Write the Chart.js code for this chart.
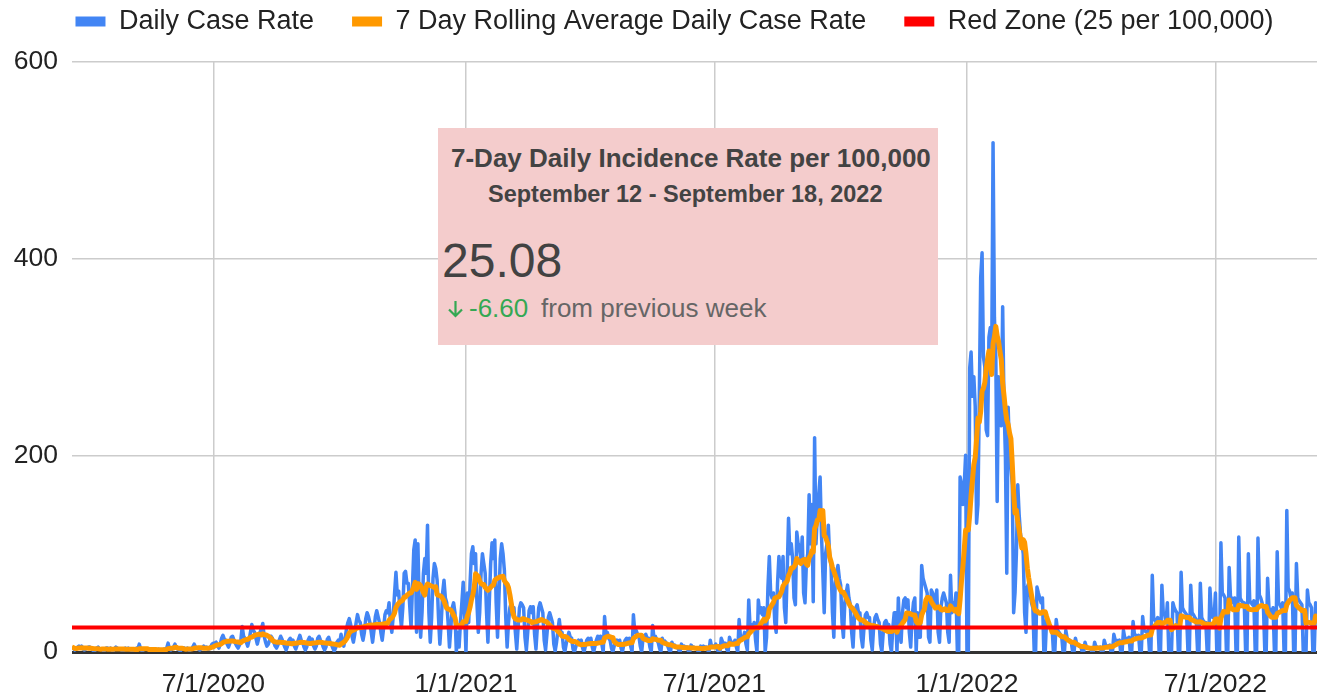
<!DOCTYPE html>
<html><head><meta charset="utf-8">
<script src="https://cdn.jsdelivr.net/npm/chart.js@4.4.1/dist/chart.umd.min.js"></script>
<style>
html,body{margin:0;padding:0;background:#fff;}
#wrap{position:relative;width:1317px;height:699px;overflow:hidden;background:#fff;}
#c{position:absolute;left:0;top:0;}
#box{position:absolute;left:438px;top:128px;width:500px;height:217px;background:#F4CCCC;font-family:"Liberation Sans",Arial,sans-serif;}
.t{position:absolute;white-space:nowrap;line-height:1;}
</style></head><body>
<div id="wrap">
<canvas id="c" width="1317" height="699"></canvas>
<div id="box">
  <div class="t" style="left:13px;top:17px;font-size:26px;font-weight:bold;color:#434343">7-Day Daily Incidence Rate per 100,000</div>
  <div class="t" style="left:50px;top:55px;font-size:23.5px;font-weight:bold;color:#434343">September 12 - September 18, 2022</div>
  <div class="t" style="left:4px;top:109px;font-size:48px;color:#424242">25.08</div>
  <svg style="position:absolute;left:9px;top:173px" width="17" height="17" viewBox="0 0 17 17"><path d="M8.5 0 V15 M2 8.5 L8.5 15 L15 8.5" fill="none" stroke="#34A853" stroke-width="2.2"/></svg>
  <div class="t" style="left:31px;top:167px;font-size:26px;color:#34A853">-6.60</div>
  <div class="t" style="left:103px;top:167px;font-size:26px;color:#666666">from previous week</div>
</div>
</div>
<script>
// Day 0 = 2020-03-20 (Friday); each row below is one week (Fri..Thu)
const startDate = '2020-03-20';
const dailyCaseRate = [
5,4,2,3,5,6,4,
6,3,2,3,4,5,5,
4,2,1,2,4,5,3,
3,3,1,2,4,4,3,
4,2,1,3,5,4,3,
3,2,2,2,4,3,4,
3,2,1,2,3,4,3,
8,3,1,2,3,3,3,
3,2,1,2,3,3,2,
3,2,1,2,3,3,4,
9,3,2,3,5,8,4,
3,2,1,3,4,4,3,
4,2,2,3,5,8,5,
4,3,2,3,4,6,4,
5,3,3,5,8,9,9,
10,6,4,8,14,17,13,
12,8,5,9,15,16,12,
9,6,4,7,12,26,16,
14,10,6,12,20,28,22,
20,14,8,14,20,24,29,
16,10,6,8,12,16,14,
10,6,4,7,12,16,13,
9,5,2,6,12,14,10,
12,6,3,7,13,17,12,
10,5,2,5,12,15,11,
13,6,3,6,14,16,12,
10,5,2,5,13,15,10,
8,4,1,4,10,12,9,
18,10,6,14,24,30,34,
28,16,10,18,30,38,32,
30,18,12,20,34,40,36,
30,20,10,22,36,42,36,
30,20,12,24,38,42,40,
50,30,20,36,60,81,58,
62,40,25,45,80,82,70,
70,48,25,65,104,114,20,
110,45,15,40,80,95,80,
129,40,10,35,75,90,85,
73,35,8,30,60,73,55,
50,30,5,25,45,50,40,
0,20,5,30,50,71,40,
0,60,30,70,100,107,90,
100,50,20,40,80,100,90,
80,40,10,50,90,111,95,
114,50,15,55,95,110,100,
83,35,5,30,45,50,40,
45,20,3,25,45,50,48,
45,15,2,20,42,46,40,
46,18,3,25,45,50,45,
40,12,2,18,35,40,35,
30,8,1,10,22,33,20,
20,5,0,8,15,20,15,
14,3,0,5,10,12,10,
12,4,0,6,12,14,10,
14,5,0,6,12,16,12,
16,8,0,36,18,20,14,
12,4,0,6,10,12,9,
12,4,0,8,12,14,12,
14,6,0,38,20,22,18,
16,6,0,14,16,18,14,
14,5,0,27,14,16,12,
10,4,0,14,10,11,9,
6,2,0,10,6,7,5,
5,2,0,8,5,6,5,
5,1,0,7,5,5,4,
4,1,0,6,4,6,5,
5,2,0,12,5,6,5,
8,3,0,0,14,10,9,
9,3,0,15,10,10,8,
12,5,0,33,15,16,14,
20,8,2,53,25,28,24,
30,12,0,53,40,45,38,
45,0,15,66,97,60,55,
60,30,20,70,97,80,75,
97,45,30,80,136,100,110,
95,55,48,122,110,105,95,
117,60,50,90,100,160,110,
150,51,218,110,140,160,178,
120,80,40,100,110,129,95,
88,40,15,70,80,88,75,
68,30,15,50,60,68,55,
48,20,5,35,45,48,40,
40,15,5,25,38,40,35,
35,12,2,25,35,38,33,
30,8,0,20,30,32,28,
28,8,0,25,40,40,0,
55,20,10,40,53,55,45,
53,20,5,35,50,55,0,
40,15,15,88,75,70,65,
60,15,10,63,60,55,50,
63,20,10,45,55,60,55,
50,20,10,78,40,50,45,
60,0,0,178,170,150,170,
200,0,0,289,305,260,280,
250,131,150,260,381,406,300,
290,226,220,320,330,290,518,
340,300,153,280,260,230,351,
250,200,80,249,200,190,170,
40,60,100,170,140,120,110,
100,40,20,66,70,60,50,
45,0,0,66,60,55,50,
55,0,0,33,30,28,25,
25,0,0,33,22,20,18,
16,0,0,22,14,12,12,
10,0,0,14,8,7,6,
5,0,0,10,5,4,4,
4,0,0,10,5,5,4,
5,0,0,12,7,6,6,
7,0,0,18,12,12,11,
12,0,0,22,14,14,13,
15,0,0,31,18,17,16,
17,0,0,36,22,21,20,
22,0,0,78,35,32,30,
35,0,0,68,40,38,30,
50,0,0,0,50,45,42,
40,0,0,81,45,42,40,
38,0,0,68,40,38,35,
33,0,0,70,35,32,30,
30,0,0,65,40,35,35,
60,0,0,0,111,60,58,
55,0,0,86,55,55,50,
55,0,0,117,55,52,50,
50,0,0,100,52,50,48,
52,0,0,116,58,55,50,
45,0,0,75,45,42,40,
45,0,0,102,50,48,45,
50,0,0,144,65,62,55,
60,0,0,90,55,52,50,
48,0,0,0,63,50,48,
45,0,0,50,40,35,32,
30,0,0
];
const tickDays = [103, 287, 468, 652, 833];
const tickLabels = ['7/1/2020', '1/1/2021', '7/1/2021', '1/1/2022', '7/1/2022'];
const yTicks = [0, 200, 400, 600];
const redZoneLevel = 25;
const xMaxDay = 907;
const rollingWindow = 7;

const seriesNames = ['Daily Case Rate', '7 Day Rolling Average Daily Case Rate', 'Red Zone (25 per 100,000)'];
const seriesColors = ['#4285F4', '#FF9900', '#FF0000'];

// 7-day rolling average of the daily series
const rollingAvg = dailyCaseRate.map((v, i) => {
  const w = dailyCaseRate.slice(Math.max(0, i - rollingWindow + 1), i + 1);
  return w.reduce((a, b) => a + b, 0) / w.length;
});

const dailyPts = dailyCaseRate.map((v, i) => ({x: i, y: v}));
const avgPts = rollingAvg.map((v, i) => ({x: i, y: v}));
const redPts = dailyCaseRate.map((v, i) => ({x: i, y: redZoneLevel}));

Chart.defaults.font.family = "'Liberation Sans', Arial, sans-serif";

const legendFix = {
  id: 'legendFix',
  beforeLayout(chart) {
    const lg = chart.legend;
    if (lg && !lg._patched) {
      const f = lg.fit.bind(lg);
      lg.fit = function () { f(); this.height = 62; };
      lg._patched = true;
    }
  },
  afterLayout(chart) {
    const lg = chart.legend;
    lg.top -= 30;           // move items up; keep bottom so nothing is clipped
    lg.left += 16; lg.right += 16;
  }
};

new Chart(document.getElementById('c'), {
  type: 'line',
  data: {
    datasets: [
      {label: seriesNames[0], data: dailyPts, borderColor: seriesColors[0], backgroundColor: seriesColors[0], borderWidth: 3.5, pointRadius: 0, tension: 0, order: 2, borderJoinStyle: 'round'},
      {label: seriesNames[1], data: avgPts, borderColor: seriesColors[1], backgroundColor: seriesColors[1], borderWidth: 5, pointRadius: 0, tension: 0, order: 1, borderJoinStyle: 'round'},
      {label: seriesNames[2], data: redPts, borderColor: seriesColors[2], backgroundColor: seriesColors[2], borderWidth: 4, pointRadius: 0, tension: 0, order: 0}
    ]
  },
  options: {
    responsive: false,
    animation: false,
    devicePixelRatio: 1,
    layout: {padding: 0},
    plugins: {
      tooltip: {enabled: false},
      legend: {
        position: 'top',
        fullSize: true,
        labels: {
          boxWidth: 30, boxHeight: 10, padding: 38,
          color: '#222', font: {size: 27},
          sort: (a, b) => a.datasetIndex - b.datasetIndex,
          generateLabels: (chart) => Chart.defaults.plugins.legend.labels.generateLabels(chart).map(l => Object.assign(l, {lineWidth: 0}))
        }
      }
    },
    scales: {
      x: {
        type: 'linear', min: 0, max: xMaxDay,
        afterBuildTicks: (s) => { s.ticks = tickDays.map(v => ({value: v})); },
        ticks: {callback: (v) => { const k = tickDays.indexOf(v); return k >= 0 ? tickLabels[k] : ''; }, padding: 17, color: '#222', font: {size: 26.5}, maxRotation: 0, autoSkip: false},
        grid: {drawTicks: false, color: '#cccccc', lineWidth: 1.5},
        border: {display: false},
        afterFit: (s) => { s.height = 47; }
      },
      y: {
        min: 0, max: 600,
        afterBuildTicks: (s) => { s.ticks = yTicks.map(v => ({value: v})); },
        ticks: {padding: 14, color: '#222', font: {size: 26.5}},
        grid: {drawTicks: false, color: (c) => c.tick && c.tick.value === 0 ? '#333333' : '#cccccc', lineWidth: (c) => c.tick && c.tick.value === 0 ? 3 : 1.5},
        border: {display: false},
        afterFit: (s) => { s.width = 72; }
      }
    }
  },
  plugins: [legendFix]
});
</script>
</body></html>
